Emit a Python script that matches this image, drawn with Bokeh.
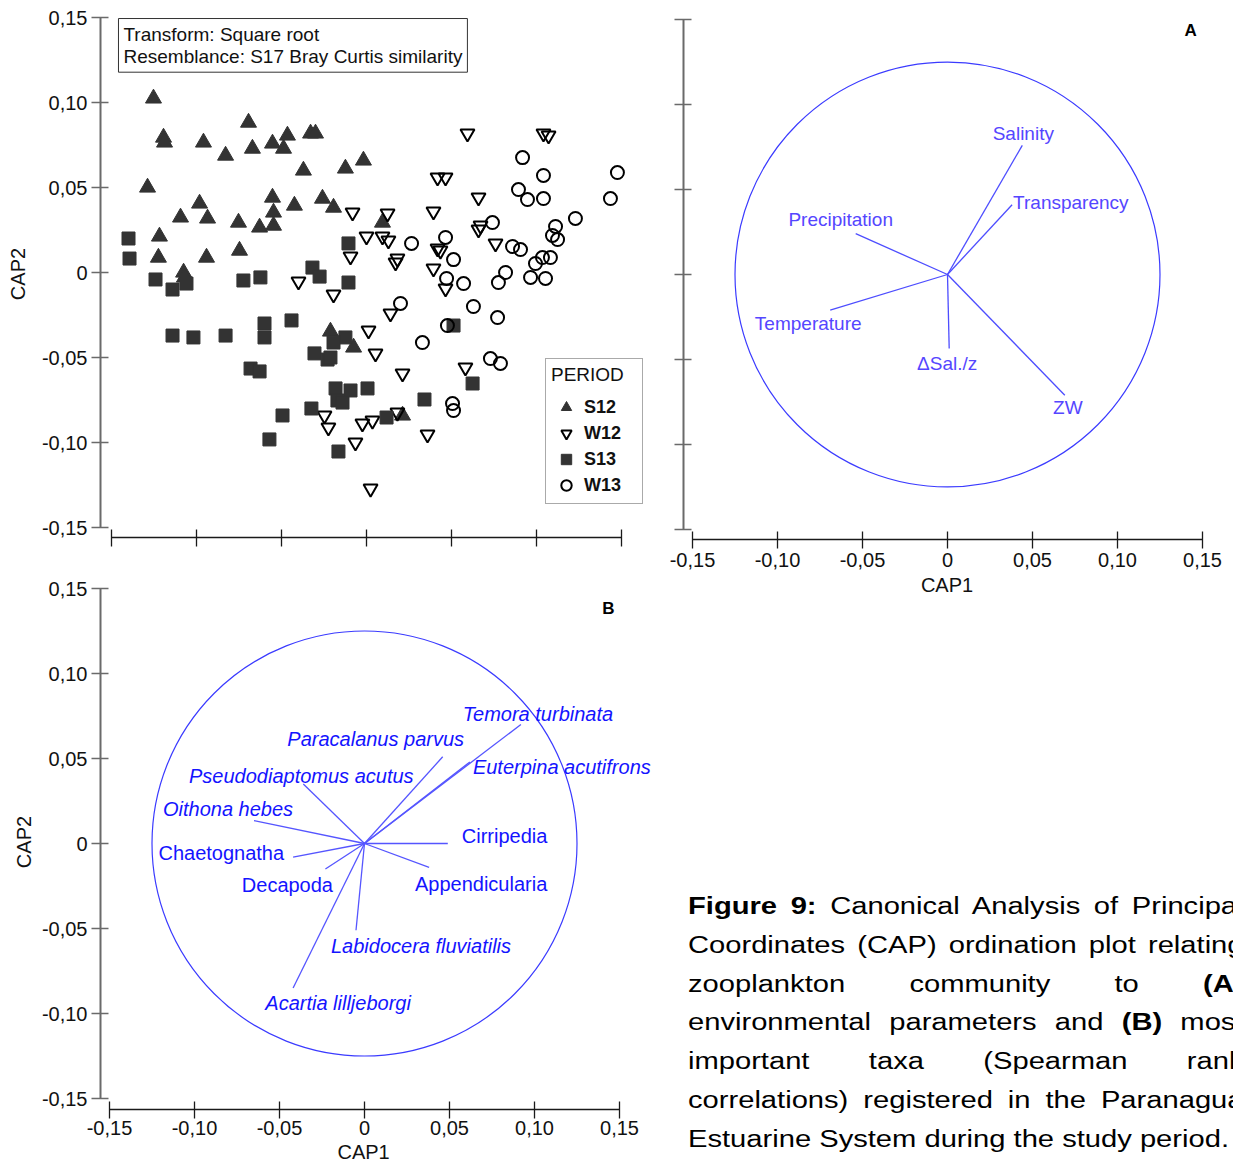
from bokeh.plotting import figure
from bokeh.models import Range1d, FixedTicker, Label, Legend, LegendItem, Div, Title
from bokeh.layouts import row, column
from bokeh.embed import file_html
from bokeh.resources import INLINE
from bokeh.core.properties import value

FONT = "Liberation Sans"
PX = 1700.0  # screen pixels per CAP unit (same on both axes)

# ---------------- data ----------------
tick_values = [-0.15, -0.10, -0.05, 0.0, 0.05, 0.10, 0.15]
tick_labels = ["-0,15", "-0,10", "-0,05", "0", "0,05", "0,10", "0,15"]

periods = ["S12", "W12", "S13", "W13"]

s12_cap1 = [-0.1253, -0.1194, -0.1188, -0.0959, -0.0829, -0.0694, -0.0671, -0.0553, -0.0488, -0.0465,
            -0.0329, -0.0300, -0.0371, -0.0124, -0.0018, -0.1288, -0.1094, -0.0982, -0.0935, -0.0753,
            -0.0629, -0.0553, -0.0547, -0.0547, -0.0424, -0.0259, -0.0194, 0.0094, -0.1218, -0.1224,
            -0.0941, -0.0747, -0.1076, -0.1071, -0.0212, -0.0076, 0.0212]
s12_cap2 = [0.1024, 0.0794, 0.0765, 0.0765, 0.0688, 0.0882, 0.0729, 0.0759, 0.0729, 0.0806,
            0.0818, 0.0818, 0.0600, 0.0612, 0.0659, 0.0500, 0.0324, 0.0406, 0.0318, 0.0294,
            0.0265, 0.0441, 0.0353, 0.0276, 0.0394, 0.0435, 0.0382, 0.0294, 0.0212, 0.0088,
            0.0088, 0.0129, 0.0000, -0.0029, -0.0347, -0.0441, -0.0841]

w12_cap1 = [0.0594, 0.1041, 0.1071, 0.0418, 0.0465, 0.0659, -0.0082, 0.0124, 0.0394, 0.0671,
            0.0659, 0.0000, 0.0094, 0.0129, 0.0418, 0.0435, 0.0759, 0.0182, 0.0171, -0.0094,
            0.0394, -0.0400, -0.0194, 0.0465, 0.0141, 0.0012, 0.0053, 0.0212, 0.0582, 0.0359,
            0.0182, 0.0035, -0.0024, -0.0065, 0.0024, -0.0247, -0.0224]
w12_cap2 = [0.0818, 0.0818, 0.0806, 0.0559, 0.0559, 0.0441, 0.0353, 0.0347, 0.0359, 0.0276,
            0.0253, 0.0212, 0.0212, 0.0188, 0.0141, 0.0129, 0.0171, 0.0082, 0.0059, 0.0094,
            0.0024, -0.0053, -0.0129, -0.0094, -0.0241, -0.0341, -0.0476, -0.0594, -0.0559, -0.0953,
            -0.0824, -0.0871, -0.0888, -0.1000, -0.1271, -0.0841, -0.0912]

s13_cap1 = [-0.1400, -0.1394, -0.1241, -0.1141, -0.1059, -0.0724, -0.0624, -0.0318, -0.0276, -0.1141,
            -0.1018, -0.0829, -0.0600, -0.0600, -0.0441, -0.0682, -0.0629, -0.0306, -0.0229, -0.0182,
            -0.0171, -0.0324, -0.0494, -0.0571, -0.0165, -0.0106, -0.0106, -0.0124, -0.0194, -0.0094,
            -0.0141, 0.0006, 0.0118, 0.0341, 0.0512, 0.0624, -0.0212]
s13_cap2 = [0.0200, 0.0082, -0.0041, -0.0100, -0.0065, -0.0047, -0.0029, 0.0029, -0.0024, -0.0371,
            -0.0382, -0.0371, -0.0300, -0.0382, -0.0282, -0.0565, -0.0582, -0.0476, -0.0512, -0.0682,
            -0.0753, -0.0800, -0.0841, -0.0982, -0.1053, -0.0059, 0.0171, -0.0382, -0.0412, -0.0694,
            -0.0765, -0.0682, -0.0853, -0.0747, -0.0312, -0.0653, -0.0500]

w13_cap1 = [0.0918, 0.1041, 0.1476, 0.0894, 0.0947, 0.1041, 0.1435, 0.1229, 0.1112, 0.1094,
            0.1124, 0.0741, 0.0859, 0.0906, 0.0265, 0.0465, 0.0512, 0.1082, 0.1035, 0.0994,
            0.0818, 0.0776, 0.0965, 0.1053, 0.0471, 0.0571, 0.0200, 0.0629, 0.0771, 0.0476,
            0.0329, 0.0729, 0.0788, 0.0506, 0.0512]
w13_cap2 = [0.0676, 0.0571, 0.0588, 0.0488, 0.0429, 0.0435, 0.0435, 0.0318, 0.0271, 0.0218,
            0.0194, 0.0294, 0.0153, 0.0135, 0.0171, 0.0206, 0.0076, 0.0088, 0.0088, 0.0053,
            0.0000, -0.0059, -0.0029, -0.0035, -0.0035, -0.0065, -0.0182, -0.0200, -0.0265, -0.0312,
            -0.0412, -0.0506, -0.0535, -0.0771, -0.0812]

# Panel A: environmental vectors
env_vars = ["Salinity", "Transparency", "Precipitation", "Temperature", "\u0394Sal./z", "ZW"]
env_cap1 = [0.044, 0.038, -0.054, -0.069, 0.001, 0.069]
env_cap2 = [0.076, 0.041, 0.024, -0.021, -0.0435, -0.071]

# Panel B: taxa vectors
taxa = ["Temora turbinata", "Euterpina acutifrons", "Paracalanus parvus", "Pseudodiaptomus acutus",
        "Oithona hebes", "Chaetognatha", "Decapoda", "Acartia lilljeborgi", "Labidocera fluviatilis",
        "Appendicularia", "Cirripedia"]
taxa_cap1 = [0.092, 0.062, 0.046, -0.036, -0.065, -0.042, -0.023, -0.042, -0.005, 0.038, 0.049]
taxa_cap2 = [0.070, 0.048, 0.051, 0.035, 0.0135, -0.008, -0.015, -0.085, -0.051, -0.014, 0.0]
taxa_italic = [True, True, True, True, True, False, False, True, True, False, False]

circle_radius = 0.125

caption_lines = [
    "<b>Figure 9:</b> Canonical Analysis of Principal",
    "Coordinates (CAP) ordination plot relating",
    "zooplankton community to <b>(A)</b>",
    "environmental parameters and <b>(B)</b> most",
    "important taxa (Spearman rank",
    "correlations) registered in the Paranagu\u00e1",
    "Estuarine System during the study period.",
]

# ---------------- styles (label placement in screen px) ----------------
env_label_style = {
    "Salinity": ("center", 1, -12),
    "Transparency": ("left", 1, -2),
    "Precipitation": ("center", -15, -14),
    "Temperature": ("center", -22, 13),
    "\u0394Sal./z": ("center", -2, 15),
    "ZW": ("center", 3, 12),
}
taxa_label_style = {
    "Temora turbinata": ("center", 17, -11),
    "Euterpina acutifrons": ("left", 3, 5),
    "Paracalanus parvus": ("center", -67, -18),
    "Pseudodiaptomus acutus": ("center", -2, -8),
    "Oithona hebes": ("center", -26, -12),
    "Chaetognatha": ("right", -9, -4),
    "Decapoda": ("center", -38, 16),
    "Acartia lilljeborgi": ("center", 45, 15),
    "Labidocera fluviatilis": ("center", 65, 16),
    "Appendicularia": ("center", 52, 17),
    "Cirripedia": ("left", 14, -8),
}


def make_fig(width, height, left, right, top, bottom, zero_x, zero_y):
    fw = width - left - right
    fh = height - top - bottom
    p = figure(width=width, height=height, output_backend="svg", toolbar_location=None,
               x_range=Range1d(-zero_x / PX, (fw - zero_x) / PX),
               y_range=Range1d(-(fh - zero_y) / PX, zero_y / PX),
               min_border_left=left, min_border_right=right,
               min_border_top=top, min_border_bottom=bottom)
    p.grid.visible = False
    p.outline_line_color = None
    p.background_fill_color = "white"
    p.border_fill_color = "white"
    return p


def style_axis(ax, show_labels, axis_label, line_color, line_width, standoff, label_standoff):
    ax.ticker = FixedTicker(ticks=tick_values)
    ax.bounds = (tick_values[0], tick_values[-1])
    ax.axis_line_color = line_color
    ax.axis_line_width = line_width
    ax.major_tick_line_color = line_color
    ax.major_tick_line_width = 1.3
    ax.major_tick_in = 8
    ax.major_tick_out = 9
    ax.minor_tick_line_color = None
    if show_labels:
        ax.major_label_overrides = dict(zip(tick_values, tick_labels))
        ax.major_label_text_font = FONT
        ax.major_label_text_font_size = "20px"
        ax.major_label_text_color = "#111111"
        ax.major_label_standoff = standoff
    else:
        ax.major_label_overrides = {v: "" for v in tick_values}
        ax.major_label_text_font_size = "1px"
        ax.major_label_standoff = 0
    if axis_label:
        ax.axis_label = axis_label
        ax.axis_label_text_font = FONT
        ax.axis_label_text_font_size = "20px"
        ax.axis_label_text_font_style = "normal"
        ax.axis_label_text_color = "#111111"
        ax.axis_label_standoff = label_standoff


YCOL = "#6a6a6a"
XCOL = "#1a1a1a"
LEFT_W, LEFT_BL, LEFT_BR = 660, 100, 5   # shared by the two left panels (frames are aligned)

# ---------------- Panel 1: scatter ----------------
p1 = make_fig(LEFT_W, 560, LEFT_BL, LEFT_BR, 10, 23, 266, 262)
style_axis(p1.xaxis[0], False, None, XCOL, 1.5, 0, 0)
style_axis(p1.yaxis[0], True, "CAP2", YCOL, 2, 4, 10)

DARK = "#333333"
r_s12 = p1.scatter(s12_cap1, s12_cap2, marker="triangle", size=16, fill_color=DARK, line_color=DARK)
r_w12 = p1.scatter(w12_cap1, w12_cap2, marker="inverted_triangle", size=14, fill_color=None,
                   line_color="black", line_width=2)
r_s13 = p1.scatter(s13_cap1, s13_cap2, marker="square", size=13, fill_color=DARK, line_color=DARK)
r_w13 = p1.scatter(w13_cap1, w13_cap2, marker="circle", size=13, fill_color=None,
                   line_color="black", line_width=2)

legend = Legend(items=[LegendItem(label=n, renderers=[r]) for n, r in
                       zip(periods, [r_s12, r_w12, r_s13, r_w13])],
                location=(445, 33), title="PERIOD")
legend.title_text_font = FONT
legend.title_text_font_size = "19px"
legend.title_text_font_style = "normal"
legend.title_text_color = "#111111"
legend.title_standoff = 8
legend.label_text_font = FONT
legend.label_text_font_size = "18px"
legend.label_text_font_style = "bold"
legend.label_text_color = "#111111"
legend.glyph_width = 30
legend.glyph_height = 26
legend.label_height = 26
legend.label_width = 53
legend.label_standoff = 3
legend.spacing = 0
legend.padding = 5
legend.margin = 0
legend.border_line_color = "#555555"
legend.border_line_width = 1
legend.background_fill_color = "white"
legend.background_fill_alpha = 1
p1.add_layout(legend)

box = Label(x=-0.1459, y=0.1494,
            text="Transform: Square root\nResemblance: S17 Bray Curtis similarity",
            text_font=FONT, text_font_size="19px", text_color="#111111",
            text_align="left", text_baseline="top", text_line_height=1.08,
            border_line_color="#333333", border_line_width=1,
            background_fill_color="white", padding=5)
p1.add_layout(box)

# ---------------- Panel A: environmental vectors ----------------
pA = make_fig(573, 602, 23, 23, 10, 63, 264, 264)
style_axis(pA.xaxis[0], True, "CAP1", XCOL, 1.5, 4, 4)
style_axis(pA.yaxis[0], False, None, YCOL, 2, 0, 0)

A_LINE = "#4d4dff"
A_TEXT = "#5546ff"
pA.circle(x=[0], y=[0], radius=circle_radius, fill_color=None, line_color="#3b3bff", line_width=1.2)
pA.segment(x0=0, y0=0, x1=env_cap1, y1=env_cap2, line_color=A_LINE, line_width=1.3)
for name, cx, cy in zip(env_vars, env_cap1, env_cap2):
    al, dx, dy = env_label_style[name]
    pA.text(x=[cx], y=[cy], text=[name], x_offset=dx, y_offset=dy, text_align=al,
            text_baseline="middle", text_font=value(FONT), text_font_size="19px", text_color=A_TEXT)
pA.add_layout(Label(x=0.143, y=0.1435, text="A", text_font=FONT, text_font_size="17px",
                    text_font_style="bold", text_align="center", text_baseline="middle",
                    text_color="black"))

# ---------------- Panel B: taxa vectors ----------------
pB = make_fig(LEFT_W, 606, LEFT_BL, LEFT_BR, 14, 57, 264, 269)
style_axis(pB.xaxis[0], True, None, XCOL, 1.5, 2, 0)
style_axis(pB.yaxis[0], True, "CAP2", YCOL, 2, 4, 4)
# CAP1 title placed under x = 0 (frame is wider on the right to hold the long labels)
pB.add_layout(Title(text="CAP1", align="left", offset=237,
                    text_font=FONT, text_font_size="20px", text_font_style="normal",
                    text_color="#111111", standoff=2), "below")

B_LINE = "#5555ff"
B_TEXT = "#1414ff"
pB.circle(x=[0], y=[0], radius=circle_radius, fill_color=None, line_color="#3b3bff", line_width=1.2)
pB.segment(x0=0, y0=0, x1=taxa_cap1, y1=taxa_cap2, line_color=B_LINE, line_width=1.3)
for name, cx, cy, it in zip(taxa, taxa_cap1, taxa_cap2, taxa_italic):
    al, dx, dy = taxa_label_style[name]
    pB.text(x=[cx], y=[cy], text=[name], x_offset=dx, y_offset=dy, text_align=al,
            text_baseline="middle", text_font=value(FONT), text_font_size="20px",
            text_font_style="italic" if it else "normal", text_color=B_TEXT)
pB.add_layout(Label(x=0.1435, y=0.138, text="B", text_font=FONT, text_font_size="17px",
                    text_font_style="bold", text_align="center", text_baseline="middle",
                    text_color="black"))

# ---------------- Caption ----------------
lines_html = []
for i, ln in enumerate(caption_lines):
    just = "left" if i == len(caption_lines) - 1 else "justify"
    lines_html.append(f'<div style="text-align:{just};text-align-last:{just};white-space:normal;">{ln}</div>')
caption_html = (
    '<div style="width:573px;height:564px;overflow:hidden;margin:0;padding:0;">'
    '<div style="margin-left:28px;padding-top:285px;width:448px;transform:scaleX(1.24);'
    "transform-origin:0 0;font-family:'Liberation Sans',Arial,sans-serif;font-size:23.5px;"
    'line-height:38.8px;color:#000;">' + "".join(lines_html) + '</div></div>'
)
cap = Div(text=caption_html, width=573, height=564, styles={"overflow": "hidden", "margin": "0"})

layout = row(column(p1, pB, spacing=0), column(pA, cap, spacing=0), spacing=0)

with open("out.html", "w") as f:
    f.write(file_html(layout, INLINE))
